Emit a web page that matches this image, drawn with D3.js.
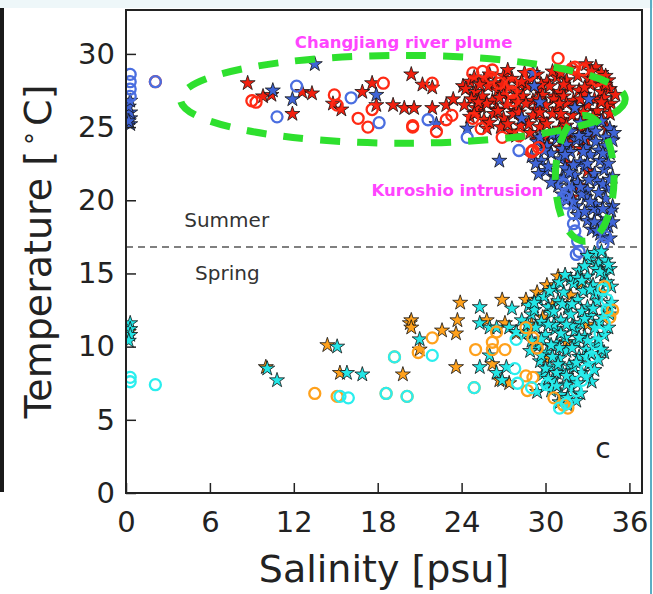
<!DOCTYPE html>
<html>
<head>
<meta charset="utf-8">
<script src="https://cdn.jsdelivr.net/npm/d3@7"></script>
<style>
  html, body { margin: 0; padding: 0; background: #fff; }
  svg { display: block; font-family: "DejaVu Sans", sans-serif; }
</style>
</head>
<body>
<div id="vis"></div>
<script>
// T-S diagram, panel c: salinity [psu] vs temperature [deg C]
const xTicks = [0, 6, 12, 18, 24, 30, 36];
const yTicks = [0, 5, 10, 15, 20, 25, 30];
const xLabel = "Salinity [psu]";
const seasonLineT = 16.8; // summer / spring divider

// [salinity, temperature]
const summerRedStars = [
  [8.7,28.0],[9.8,27.1],[10.4,27.2],[11.9,25.9],[12.6,27.4],[13.3,27.3],[14.8,26.6],[15.4,26.2],[16.9,27.4],
  [17.6,28.0],[17.9,26.5],[19.1,26.5],[19.9,26.3],[20.6,26.3],[20.4,28.6],[21.2,27.9],[21.9,27.7],[21.9,26.3],
  [22.9,26.5],[23.4,26.9],[24.1,27.8],[24.8,27.2],[25.4,26.4],[25.1,26.0],
  [31.8,29.0],[32.9,29.3],[33.6,29.1],[34.0,28.7],[29.4,28.6],[27.0,28.5],
  [25.6,28.2],[26.4,28.0],[27.6,28.3],[28.2,27.9],[29.0,28.3],[30.1,28.1],[30.8,28.4],[31.5,28.2],[32.3,28.5],
  [33.1,28.3],[33.8,28.0],[34.5,28.2],[24.6,28.1],
  [24.3,27.6],[25.0,27.4],[25.9,27.8],[26.6,27.5],[27.3,27.7],[28.0,27.4],[28.7,27.8],[29.5,27.5],[30.3,27.8],
  [31.0,27.4],[31.7,27.7],[32.4,27.5],[33.2,27.9],[34.0,27.4],[34.6,27.6],[30.6,27.1],
  [24.7,26.9],[25.5,27.1],[26.2,26.8],[27.0,27.2],[27.7,26.9],[28.4,27.1],[29.1,26.8],[29.8,27.2],[30.6,26.9],
  [31.3,27.1],[32.0,26.8],[32.8,27.2],[33.5,26.9],[34.2,27.0],[34.7,26.6],
  [24.2,26.5],[25.0,26.3],[25.8,26.6],[26.5,26.2],[27.2,26.5],[27.9,26.1],[28.6,26.6],[29.3,26.2],[30.0,26.5],
  [30.8,26.2],[31.5,26.6],[32.2,26.3],[33.0,26.5],[33.7,26.1],[34.4,26.4],
  [24.6,25.7],[25.6,25.5],[26.3,25.9],[27.0,25.6],[27.7,25.9],[28.4,25.4],[29.1,25.8],[29.8,25.5],[30.5,25.9],
  [31.2,25.5],[31.9,25.8],[32.6,25.4],[33.4,25.7],[34.1,25.5],
  [26.8,25.0],[27.5,24.7],[28.2,25.1],[28.9,24.6],[29.6,25.0],[30.3,24.5],[31.0,24.9],[31.7,24.4],[32.5,24.8],
  [33.3,24.6],[25.8,24.9],
  [29.4,24.1],[30.2,23.8],[31.0,23.6],[31.8,23.9],[32.6,23.5],
  [31.5,22.5],[32.4,21.0],[31.9,20.2],[33.0,22.0],
  [24.9,28.4],[26.0,28.6],[27.3,28.9],[28.5,28.7],[30.5,28.8],[31.1,28.7],[33.3,28.8],[34.3,28.5],
  [25.3,27.9],[26.9,27.9],[28.3,28.1],[29.7,27.9],[31.3,27.9],[32.8,27.7],[34.3,27.9],
  [25.2,26.7],[26.7,27.0],[28.0,26.7],[29.5,26.9],[31.0,26.6],[32.5,26.9],[34.0,26.7],[35.0,27.2],
  [24.9,25.9],[26.6,26.1],[28.1,26.0],[29.6,26.0],[31.1,25.9],[32.7,26.0],[34.6,25.9],
  [26.0,25.3],[27.3,25.2],[28.8,25.2],[30.1,25.2],[31.5,25.1],[32.9,25.1],[34.4,24.9],
  [27.9,24.4],[29.9,24.3],[31.3,24.2],[32.9,24.1]
];
const summerBlueStars = [
  [0.3,25.2],[0.3,25.6],[0.3,26.0],[0.2,26.4],[0.3,26.8],[0.2,25.4],
  [10.5,27.5],[11.9,26.9],[13.5,29.3],[17.9,27.2],[22.2,25.2],[24.4,24.9],[26.7,22.7],[28.3,25.6],
  [29.1,28.7],[29.2,27.8],[29.6,26.7],[32.1,26.3],[33.1,26.9],
  [32.5,25.3],[33.3,25.0],[34.0,25.4],[34.6,24.9],[31.8,24.7],[33.0,24.5],[34.3,24.3],
  [29.4,24.0],[30.1,23.7],[30.8,24.2],[31.5,23.8],[32.2,24.1],[32.9,23.6],[33.6,24.0],[34.3,23.7],[34.8,24.1],
  [29.0,23.0],[29.7,22.7],[30.4,23.2],[31.1,22.8],[31.8,23.3],[32.5,22.6],[33.2,23.1],[33.9,22.7],[34.6,23.2],[29.3,22.5],
  [30.0,22.0],[30.7,21.6],[31.4,22.2],[32.1,21.7],[32.8,22.3],[33.5,21.8],[34.2,22.1],[34.8,21.6],
  [30.9,21.0],[31.6,20.6],[32.3,21.2],[33.0,20.7],[33.7,21.3],[34.4,20.8],[31.9,20.9],
  [31.5,20.0],[32.2,19.6],[32.9,20.2],[33.6,19.7],[34.3,20.1],[34.8,19.6],
  [32.3,19.0],[33.0,18.6],[33.7,19.2],[34.4,18.7],[34.7,19.3],
  [33.3,18.0],[33.9,17.7],[34.5,18.2],[34.2,17.5],
  [31.2,23.5],[32.0,22.4],[33.1,21.4],[32.6,20.4],[33.4,19.4],[34.0,18.4],[30.2,22.3],[31.3,21.5],
  [33.8,23.4],[32.7,24.2],[34.1,21.1],[30.5,24.5],
  [29.6,24.3],[31.0,24.6],[32.4,24.4],[33.6,24.7],[34.9,24.6],
  [29.9,23.4],[31.4,23.1],[32.7,23.3],[34.1,23.2],
  [29.5,21.8],[30.4,21.2],[31.7,21.9],[33.0,22.5],[34.5,22.5],
  [31.2,20.4],[32.5,20.9],[33.8,20.5],[34.6,21.4],
  [32.0,19.9],[33.2,19.9],[34.1,19.4],
  [32.8,19.2],[33.5,18.5],[34.8,18.5],[33.7,17.9],[34.6,17.4]
];
const summerRedCircles = [
  [2.1,28.1],[9.0,26.8],[9.3,26.7],[14.9,27.2],[15.1,26.5],[16.6,25.6],[17.3,25.0],[17.6,26.2],[18.4,28.0],
  [20.5,25.0],[20.5,25.1],[21.9,28.0],[22.2,24.7],[22.9,25.5],[23.3,25.8],[24.8,28.7],[25.5,28.8],[26.1,28.4],
  [24.8,25.6],[25.4,24.9],[26.7,28.0],[27.6,27.4],[26.9,24.3],[28.1,24.4],[28.9,28.6],[30.9,29.7],[32.1,29.1],
  [32.7,28.9],[33.7,28.2],[29.0,23.3],[29.5,23.6],[27.7,26.8],[26.2,28.9],[27.6,28.0],[31.9,29.0],[29.1,23.4]
];
const summerBlueCircles = [
  [0.3,28.6],[0.3,28.1],[0.3,27.6],[0.3,27.1],[2.1,28.1],
  [10.8,25.7],[12.2,27.8],[16.1,27.0],[18.1,25.3],[21.6,25.5],[24.4,24.3],[28.1,23.4],
  [31.5,20.5],[31.3,21.1],[31.3,20.2],[31.5,19.8],[32.0,19.1],[32.0,18.4],[32.1,17.9],[32.3,17.2],
  [32.4,16.5],[32.2,16.3],[34.3,17.5],[34.1,17.0]
];
const springOrangeStars = [
  [0.2,11.0],[10.0,8.6],[14.4,10.1],[15.3,8.2],[19.8,8.1],[20.3,11.6],[20.4,11.8],[20.4,11.3],[21.0,9.8],
  [22.6,11.1],[23.7,11.8],[23.6,10.9],[23.9,13.0],[26.9,13.2],[25.8,11.8],[27.1,11.6],[27.9,10.9],
  [23.6,8.6],[26.2,8.8],[26.7,7.7],[27.4,7.5],
  [30.9,14.8],[30.1,14.2],[29.4,13.7],[28.6,13.2],
  [29.0,11.5],[30.5,12.8],[31.5,10.3],[30.0,9.2],[32.5,14.3],[29.8,12.0],[31.8,13.5],[33.0,11.5]
];
const springCyanStars = [
  [0.3,11.6],[0.3,11.2],[0.3,10.8],[0.2,10.4],
  [10.1,8.5],[10.8,7.7],[15.1,10.0],[15.8,8.2],[16.9,8.1],[21.0,10.5],[25.3,12.7],[27.6,12.6],
  [25.3,11.6],[26.0,11.3],[26.5,11.3],[27.4,11.3],[25.3,8.6],[26.0,9.4],[26.5,8.2],[26.9,7.7],[27.2,8.6],[29.4,6.9],
  [33.5,16.4],[33.2,15.9],[33.8,15.7],[34.3,15.9],
  [32.4,15.2],[33.0,14.8],[33.6,15.3],[34.2,14.9],[34.6,15.3],[31.8,14.6],
  [30.6,14.0],[31.3,13.7],[32.0,14.3],[32.7,13.8],[33.4,14.2],[34.1,13.7],[34.7,14.1],[31.0,14.4],
  [28.8,12.8],[29.5,13.2],[30.2,12.7],[30.9,13.1],[31.6,12.6],[32.3,13.2],[33.0,12.7],[33.7,13.1],[34.4,12.6],[29.9,13.4],
  [28.3,11.8],[29.0,12.2],[29.7,11.7],[30.4,12.3],[31.1,11.8],[31.8,12.2],[32.5,11.6],[33.2,12.1],[33.9,11.7],[34.6,12.2],
  [28.6,10.9],[29.3,11.3],[30.0,10.8],[30.7,11.2],[31.4,10.6],[32.1,11.1],[32.8,10.7],[33.5,11.3],[34.2,10.8],[27.9,11.0],
  [29.4,10.0],[30.1,9.6],[30.8,10.2],[31.5,9.7],[32.2,10.3],[32.9,9.8],[33.6,10.1],[34.2,9.6],[28.9,9.7],
  [29.6,9.0],[30.3,8.6],[31.0,9.2],[31.7,8.7],[32.4,9.3],[33.1,8.8],[33.8,9.1],
  [29.8,8.1],[30.5,7.7],[31.2,8.3],[31.9,7.8],[32.6,8.2],[33.3,7.6],
  [30.4,7.0],[31.1,6.7],[31.8,7.2],[32.5,6.8],[30.0,7.3],
  [31.0,6.2],[31.6,6.0],[32.2,6.3],
  [31.2,12.9],[32.6,12.4],[30.6,11.5],[31.9,11.4],[33.0,10.4],[31.0,9.9],[32.0,8.6],[30.8,8.2],
  [33.5,13.6],[32.3,14.7],[29.2,12.5],[30.4,10.1],[31.5,7.4],[32.9,9.3],
  [33.0,16.2],[34.0,16.5],[32.8,15.5],[33.9,15.1],[34.5,15.6],
  [31.4,14.9],[32.6,14.5],[33.2,13.9],[34.4,14.4],[30.3,13.8],
  [29.2,13.0],[30.6,12.4],[31.9,12.9],[33.4,12.6],[34.7,13.0],
  [28.7,11.5],[30.2,11.5],[31.5,11.5],[32.8,11.9],[34.1,12.0],
  [29.0,10.4],[29.7,10.5],[31.1,10.9],[32.4,10.6],[33.8,10.5],[34.5,11.3],
  [29.7,9.4],[30.5,9.3],[31.9,9.9],[33.3,9.5],[34.0,9.8],
  [30.0,8.5],[30.9,8.8],[32.2,8.9],[33.5,8.4],
  [30.2,7.8],[31.5,8.0],[32.9,7.9],[31.6,6.5],[30.8,7.3],[32.3,7.5]
];
const springOrangeCircles = [
  [13.5,6.8],[15.1,6.6],[18.6,6.8],[20.1,6.6],[19.2,9.3],[21.9,10.6],[20.9,9.6],[24.9,7.2],
  [25.0,9.8],[26.2,10.3],[26.5,11.0],[26.2,9.8],[27.1,9.8],[28.6,11.3],[29.1,10.6],[29.4,9.9],
  [28.6,8.0],[29.1,7.9],[28.7,7.0],[30.6,6.5],[31.6,5.8],[34.2,14.1],[34.6,12.0],[34.8,12.5],[31.3,6.0]
];
const springCyanCircles = [
  [0.3,7.9],[0.3,7.6],[2.1,7.4],[15.3,6.6],[15.9,6.5],[18.6,6.8],[20.1,6.6],[19.2,9.3],[21.9,9.4],[24.9,7.2],
  [27.8,8.5],[28.0,7.5],[29.0,7.2],[30.1,7.4],[27.9,10.5],
  [34.1,13.9],[34.4,13.2],[34.4,12.5],[34.2,11.6],[33.9,10.9],[33.6,10.2],[33.3,9.3],[32.9,8.4],
  [32.6,7.7],[32.2,7.0],[31.5,6.1],[31.0,5.8]
];

// water-mass outlines: centre and half-axes in data units
const waterMasses = [
  { name: "Changjiang river plume", s: 19.8, t: 26.9, rs: 15.9, rt: 3.0, labelS: 19.85, labelT: 30.42 },
  { name: "Kuroshio intrusion", s: 32.8, t: 21.5, rs: 2.1, rt: 4.3, labelS: 23.7, labelT: 20.3 }
];

const W = 653, H = 594;
const plot = { left: 126, right: 642, top: 10, bottom: 493 };

const svg = d3.select("#vis").append("svg")
  .attr("width", W)
  .attr("height", H);

// bits of the surrounding page that show in the crop
svg.append("rect").attr("x", 0).attr("y", 0).attr("width", W).attr("height", 8).attr("fill", "#eef7f9");
svg.append("rect").attr("x", 0).attr("y", 8).attr("width", 4).attr("height", 484).attr("fill", "#1a1a1a");
svg.append("rect").attr("x", 650).attr("y", 0).attr("width", 2).attr("height", H).attr("fill", "#5aaec4");

const x = d3.scaleLinear().domain([0, 36.9]).range([plot.left, plot.right]);
const y = d3.scaleLinear().domain([0, 33]).range([plot.bottom, plot.top]);

svg.append("clipPath").attr("id", "clip")
  .append("rect")
  .attr("x", plot.left).attr("y", plot.top)
  .attr("width", plot.right - plot.left)
  .attr("height", plot.bottom - plot.top);

const g = svg.append("g").attr("clip-path", "url(#clip)");

// summer / spring divider
g.append("line")
  .attr("x1", x(0)).attr("x2", x(36.9))
  .attr("y1", y(seasonLineT)).attr("y2", y(seasonLineT))
  .attr("stroke", "#808080")
  .attr("stroke-width", 2)
  .attr("stroke-dasharray", "7,5");

const star = d3.symbol(d3.symbolStar, 70);

function drawStars(data, fill) {
  g.append("g").selectAll("path")
    .data(data)
    .join("path")
    .attr("d", star)
    .attr("transform", d => `translate(${x(d[0])},${y(d[1])})`)
    .attr("fill", fill)
    .attr("stroke", "#111")
    .attr("stroke-width", 0.8);
}

function drawCircles(data, color) {
  g.append("g").selectAll("circle")
    .data(data)
    .join("circle")
    .attr("cx", d => x(d[0]))
    .attr("cy", d => y(d[1]))
    .attr("r", 5.5)
    .attr("fill", "none")
    .attr("stroke", color)
    .attr("stroke-width", 2.3);
}

drawStars(summerRedStars, "#f2200f");
drawStars(summerBlueStars, "#3f64d6");
drawCircles(summerRedCircles, "#ff2a14");
drawCircles(summerBlueCircles, "#4a6ee0");
drawStars(springOrangeStars, "#ffa11c");
drawStars(springCyanStars, "#22e6e6");
drawCircles(springOrangeCircles, "#ffa11c");
drawCircles(springCyanCircles, "#2aeeee");

// dashed outlines
g.append("g").selectAll("ellipse")
  .data(waterMasses)
  .join("ellipse")
  .attr("cx", d => x(d.s))
  .attr("cy", d => y(d.t))
  .attr("rx", d => x(d.s + d.rs) - x(d.s))
  .attr("ry", d => y(d.t) - y(d.t + d.rt))
  .attr("fill", "none")
  .attr("stroke", "#2ee02e")
  .attr("stroke-width", 7)
  .attr("stroke-dasharray", "20,17");

// annotations
svg.append("g").selectAll("text")
  .data(waterMasses)
  .join("text")
  .attr("x", d => x(d.labelS))
  .attr("y", d => y(d.labelT))
  .attr("text-anchor", "middle")
  .attr("font-size", 16.5)
  .attr("font-weight", "bold")
  .attr("fill", "#ff45ff")
  .text(d => d.name);

svg.append("text").attr("x", x(7.2)).attr("y", y(18.2))
  .attr("text-anchor", "middle").attr("font-size", 20).attr("fill", "#333")
  .text("Summer");
svg.append("text").attr("x", x(7.25)).attr("y", y(14.56))
  .attr("text-anchor", "middle").attr("font-size", 20).attr("fill", "#333")
  .text("Spring");
svg.append("text").attr("x", x(34.1)).attr("y", y(2.4))
  .attr("text-anchor", "middle").attr("font-size", 28).attr("fill", "#222")
  .text("c");

// axes, ticks pointing inwards
const xAxis = svg.append("g")
  .attr("transform", `translate(0,${plot.bottom})`)
  .call(d3.axisBottom(x).tickValues(xTicks).tickSize(-10).tickSizeOuter(0).tickPadding(18));
const yAxis = svg.append("g")
  .attr("transform", `translate(${plot.left},0)`)
  .call(d3.axisLeft(y).tickValues(yTicks).tickSize(-10).tickSizeOuter(0).tickPadding(11));

[xAxis, yAxis].forEach(a => {
  a.select(".domain").remove();
  a.selectAll(".tick line").attr("stroke", "#222").attr("stroke-width", 1.5);
  a.selectAll(".tick text")
    .attr("font-family", "DejaVu Sans, sans-serif")
    .attr("font-size", 29)
    .attr("fill", "#222");
});

// frame
svg.append("rect")
  .attr("x", plot.left).attr("y", plot.top)
  .attr("width", plot.right - plot.left)
  .attr("height", plot.bottom - plot.top)
  .attr("fill", "none")
  .attr("stroke", "#222")
  .attr("stroke-width", 2);

// axis titles
svg.append("text")
  .attr("x", (plot.left + plot.right) / 2)
  .attr("y", 582)
  .attr("text-anchor", "middle")
  .attr("font-size", 38)
  .attr("fill", "#222")
  .text(xLabel);

const yTitle = svg.append("text")
  .attr("transform", `translate(51,${(plot.top + plot.bottom) / 2}) rotate(-90)`)
  .attr("text-anchor", "middle")
  .attr("font-size", 38)
  .attr("fill", "#222");
yTitle.append("tspan").text("Temperature [");
yTitle.append("tspan").attr("dx", 6).attr("font-size", 26).attr("dy", -6).text("°");
yTitle.append("tspan").attr("dx", 6).attr("dy", 6).text("C]");
</script>
</body>
</html>
